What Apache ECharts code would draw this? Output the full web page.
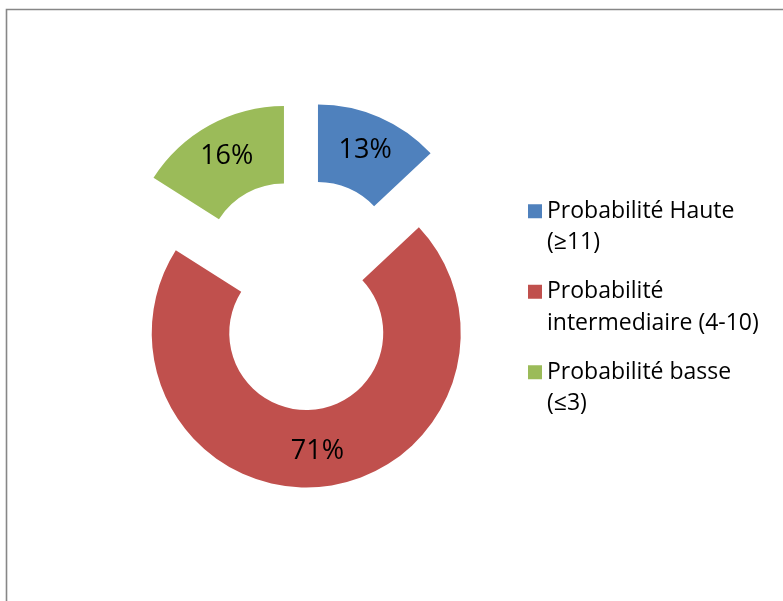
<!DOCTYPE html>
<html>
<head>
<meta charset="utf-8">
<script src="https://cdn.jsdelivr.net/npm/echarts@6/dist/echarts.min.js"></script>
<style>
  html, body { margin: 0; padding: 0; background: #fff; }
  #chart { width: 783px; height: 601px; }
</style>
</head>
<body>
<div id="chart"></div>
<script>
// Probability classes and their share (%)
const categories = ['Probabilité Haute (≥11)', 'Probabilité intermediaire (4-10)', 'Probabilité basse (≤3)'];
const shares = [13, 71, 16];
// Wrapped legend text, one entry per category
const legendLabels = ['Probabilité Haute\n(≥11)', 'Probabilité\nintermediaire (4-10)', 'Probabilité basse\n(≤3)'];
const colors = ['#4F81BD', '#C0504D', '#9BBB59'];

const chart = echarts.init(document.getElementById('chart'), null, { renderer: 'canvas' });

const font = '"Open Sans", Lato, sans-serif';

chart.setOption({
  animation: false,
  color: colors,
  graphic: [{
    type: 'rect',
    silent: true,
    shape: { x: 6.5, y: 9.5, width: 820, height: 640 },
    style: { fill: 'none', stroke: '#878787', lineWidth: 1.6 }
  }],
  legend: {
    orient: 'vertical',
    left: 528,
    top: 164,
    padding: 0,
    selectedMode: false,
    icon: 'rect',
    itemWidth: 14,
    itemHeight: 14,
    itemGap: -14,
    data: categories,
    // a leading blank line keeps the swatch level with the first text line
    formatter: name => '\n' + legendLabels[categories.indexOf(name)],
    textStyle: {
      fontFamily: font,
      fontSize: 23,
      lineHeight: 31.5,
      color: '#000'
    }
  },
  series: [{
    type: 'pie',
    center: [302.6, 294.5],
    radius: [77, 154.5],
    startAngle: 90,
    clockwise: true,
    selectedMode: 'multiple',
    selectedOffset: 38.7,
    emphasis: { disabled: true },
    label: {
      show: true,
      position: 'inside',
      formatter: '{c}%',
      fontFamily: font,
      fontSize: 27,
      color: '#000'
    },
    labelLine: { show: false },
    data: categories.map((name, i) => ({ name, value: shares[i], selected: true }))
  }]
});
</script>
</body>
</html>
